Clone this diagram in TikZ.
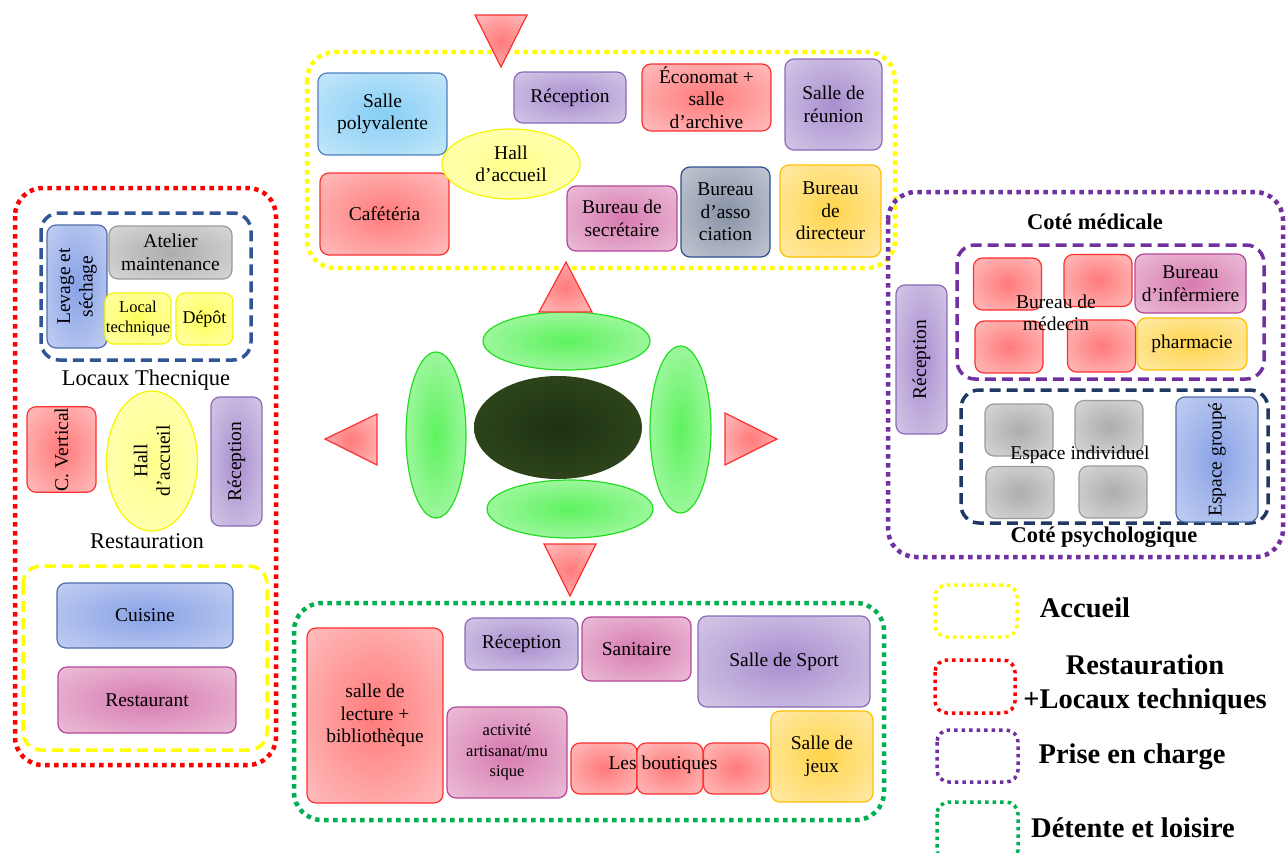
\documentclass[tikz,border=0pt]{standalone}
\usepackage{fontspec}
\setmainfont{Liberation Serif}
\usepackage{xcolor}
\usepackage{tikz}
\usetikzlibrary{shapes.geometric}

% tailles de texte
\newcommand{\petit}{\fontsize{16.5}{20.5}\selectfont}
\newcommand{\moyen}{\fontsize{19.5}{22.5}\selectfont}
\newcommand{\grand}{\fontsize{22.5}{26}\selectfont}
\newcommand{\legende}{\fontsize{28.5}{34}\selectfont}

% couleurs des zones
\definecolor{jauneacc}{HTML}{FFFF00}
\definecolor{rougezone}{HTML}{FF0000}
\definecolor{violetzone}{HTML}{7030A0}
\definecolor{vertzone}{HTML}{00B050}
\definecolor{bleutech}{HTML}{2F5597}
\definecolor{marinepsy}{HTML}{1F3864}
% couleurs des locaux (centre / bord / trait)
\definecolor{rougeC}{HTML}{FF7A7A}\definecolor{rougeB}{HTML}{FFD9D9}\definecolor{rougeT}{HTML}{FF3030}
\definecolor{cielC}{HTML}{86CEF5}\definecolor{cielB}{HTML}{DDF1FC}\definecolor{cielT}{HTML}{4F81BD}
\definecolor{mauveC}{HTML}{A88ECF}\definecolor{mauveB}{HTML}{E6E0F0}\definecolor{mauveT}{HTML}{8B6AB8}
\definecolor{roseC}{HTML}{D77AB0}\definecolor{roseB}{HTML}{F3DAE8}\definecolor{roseT}{HTML}{B5479A}
\definecolor{grisC}{HTML}{ADADAD}\definecolor{grisB}{HTML}{E9E9E9}\definecolor{grisT}{HTML}{9A9A9A}
\definecolor{jauneC}{HTML}{FFFF5C}\definecolor{jauneB}{HTML}{FFFFCC}\definecolor{jauneT}{HTML}{F5F500}
\definecolor{ambreC}{HTML}{FFD44A}\definecolor{ambreB}{HTML}{FFF3D0}\definecolor{ambreT}{HTML}{FFC000}
\definecolor{ardoiseC}{HTML}{8792A6}\definecolor{ardoiseB}{HTML}{DADDE4}\definecolor{ardoiseT}{HTML}{2F4F8F}
\definecolor{bleuC}{HTML}{88A2E6}\definecolor{bleuB}{HTML}{DAE1F7}\definecolor{bleuT}{HTML}{4F6EA8}
\definecolor{vertC}{HTML}{5EF25E}\definecolor{vertB}{HTML}{D8FCD8}\definecolor{vertT}{HTML}{22DD22}
\definecolor{coeurC}{HTML}{1E3212}\definecolor{coeurB}{HTML}{3B5423}

% degrade radial du centre jusqu'aux bords
\colorlet{fondc}{white}\colorlet{fondb}{white}
\pgfdeclareradialshading[fondc,fondb]{degrade}{\pgfpoint{0bp}{0bp}}{color(0bp)=(fondc); color(50bp)=(fondb)}

\tikzset{
  fond/.style 2 args={shade, shading=degrade, /utils/exec={\colorlet{fondc}{#1}\colorlet{fondb}{#2}}},
  zone/.style={line width=4.5pt, dash pattern=on 4.5pt off 4.5pt, rounded corners=28pt},
  tirets/.style={line width=3.5pt, dash pattern=on 11pt off 6pt, rounded corners=18pt},
  legende/.style={line width=3.5pt, dash pattern=on 3.5pt off 4pt, rounded corners=12pt},
  piece/.style={draw, rounded corners=9pt, line width=1.2pt, align=center, inner sep=1pt, font=\moyen},
  rouge/.style={piece, draw=rougeT, fond={rougeC}{rougeB}},
  ciel/.style={piece, draw=cielT, fond={cielC}{cielB}},
  mauve/.style={piece, draw=mauveT, fond={mauveC}{mauveB}},
  rose/.style={piece, draw=roseT, fond={roseC}{roseB}},
  gris/.style={piece, draw=grisT, fond={grisC}{grisB}},
  jaune/.style={piece, draw=jauneT, fond={jauneC}{jauneB}},
  ambre/.style={piece, draw=ambreT, fond={ambreC}{ambreB}},
  ardoise/.style={piece, draw=ardoiseT, fond={ardoiseC}{ardoiseB}},
  bleu/.style={piece, draw=bleuT, fond={bleuC}{bleuB}},
  hall/.style={ellipse, draw=jauneT, line width=1.2pt, fond={jauneC!70!white}{jauneB},
    align=center, inner sep=0pt, font=\moyen},
  ellipse verte/.style={ellipse, draw=vertT, line width=1.2pt, fond={vertC}{vertB}, inner sep=0pt},
  coeur/.style={ellipse, fond={coeurC}{coeurB}, inner sep=0pt},
  fleche/.style={draw=rougeT, line width=1.2pt, fond={rougeC}{rougeB}},
  etiquette/.style={align=center, inner sep=0pt, font=\moyen},
  titre/.style={inner sep=0pt, font=\grand},
  titre gras/.style={inner sep=0pt, font=\grand\bfseries},
  texte legende/.style={align=center, inner sep=0pt, font=\legende\bfseries}
}

\begin{document}
\begin{tikzpicture}[x=1pt,y=-1pt]
  \useasboundingbox (0,0) rectangle (1286,852);

  % Accueil
  \draw[zone, draw=jauneacc] (307,52) rectangle (895,268);
  \node[ciel, minimum width=129pt, minimum height=82pt] (polyvalente) at (382.5,114) {Salle\\polyvalente};
  \node[rouge, minimum width=129pt, minimum height=82pt] (cafeteria) at (384.5,214) {Cafétéria};
  \node[hall, minimum width=138pt, minimum height=70pt] (hallacc) at (511,164) {Hall\\d’accueil};
  \node[mauve, minimum width=112pt, minimum height=51pt] (recepacc) at (570,97.5) {Réception};
  \node[rouge, minimum width=129pt, minimum height=67pt] (economat) at (706.5,97.5) {Économat +\\salle\\d’archive};
  \node[mauve, minimum width=97pt, minimum height=91pt] (reunion) at (833.5,104.5) {Salle de\\réunion};
  \node[rose, minimum width=110pt, minimum height=65pt] (secretaire) at (622,218.5) {Bureau de\\secrétaire};
  \node[ardoise, minimum width=89pt, minimum height=90pt] (association) at (725.5,212) {Bureau\\d’asso\\ciation};
  \node[ambre, minimum width=101pt, minimum height=92pt] (directeur) at (830.5,211) {Bureau\\de\\directeur};

  % Restauration + locaux techniques
  \draw[zone, draw=rougezone] (15,188) rectangle (276,765);
  \draw[tirets, draw=bleutech] (41,213) rectangle (251,360);
  \node[bleu, rotate=90, minimum width=123pt, minimum height=60pt] (levage) at (77,286.5) {Levage et\\séchage};
  \node[gris, minimum width=123pt, minimum height=53pt] (atelier) at (170.5,252.5) {Atelier\\maintenance};
  \node[jaune, font=\petit, minimum width=50pt, minimum height=51pt] (localtech) at (138,318.5) {Local\\technique};
  \node[jaune, font=\fontsize{18}{21}\selectfont, minimum width=57pt, minimum height=52pt] (depot) at (204.5,319) {Dépôt};
  \node[titre] (loctech) at (146,380) {Locaux Thecnique};
  \node[rouge, rotate=90, minimum width=85pt, minimum height=69pt] (cvertical) at (61.5,449.5) {C. Vertical};
  \node[hall, rotate=90, minimum width=140pt, minimum height=91pt] (hallrest) at (152,461) {Hall\\d’accueil};
  \node[mauve, rotate=90, minimum width=129pt, minimum height=51pt] (receprest) at (236.5,461.5) {Réception};
  \node[titre] (restau) at (147,541) {Restauration};
  \draw[tirets, draw=jauneacc] (23,566) rectangle (267,750);
  \node[bleu, minimum width=176pt, minimum height=65pt] (cuisine) at (145,615.5) {Cuisine};
  \node[rose, minimum width=178pt, minimum height=66pt] (restaurant) at (147,700) {Restaurant};

  % Prise en charge
  \draw[zone, draw=violetzone] (888,192) rectangle (1283,557);
  \node[titre gras] (medical) at (1095,222) {Coté médicale};
  \draw[tirets, draw=violetzone] (957,245) rectangle (1264,379);
  \foreach \x/\y [count=\i] in {1007.5/284, 1098/280.5, 1009/347, 1101.5/346}
    \node[rouge, minimum width=68pt, minimum height=52pt] (medecin\i) at (\x,\y) {};
  \node[etiquette] (medecin) at (1056,313) {Bureau de\\médecin};
  \node[rose, minimum width=111pt, minimum height=59pt] (infirmiere) at (1190.5,283.5) {Bureau\\d’infèrmiere};
  \node[ambre, minimum width=110pt, minimum height=52pt] (pharmacie) at (1192,344) {pharmacie};
  \node[mauve, rotate=90, minimum width=149pt, minimum height=51pt] (recepprise) at (921.5,359.5) {Réception};
  \draw[tirets, draw=marinepsy] (961,390) rectangle (1268,523);
  \foreach \x/\y [count=\i] in {1019/430, 1109/426.5, 1020/492.5, 1113/492}
    \node[gris, minimum width=68pt, minimum height=52pt] (indiv\i) at (\x,\y) {};
  \node[etiquette] (individuel) at (1080,455) {Espace individuel};
  \node[bleu, rotate=90, minimum width=125pt, minimum height=82pt] (groupe) at (1217,459.5) {Espace groupé};
  \node[titre gras] (psycho) at (1104,537) {Coté psychologique};

  % Detente et loisire
  \draw[zone, draw=vertzone] (294,603) rectangle (884,820);
  \node[rouge, minimum width=136pt, minimum height=175pt] (lecture) at (375,715.5) {salle de\\lecture +\\bibliothèque};
  \node[mauve, minimum width=113pt, minimum height=52pt] (recepdet) at (521.5,644) {Réception};
  \node[rose, minimum width=109pt, minimum height=64pt] (sanitaire) at (636.5,649) {Sanitaire};
  \node[mauve, minimum width=172pt, minimum height=91pt] (sport) at (784,661.5) {Salle de Sport};
  \node[rose, font=\petit, minimum width=120pt, minimum height=91pt] (artisanat) at (507,752.5) {activité\\artisanat/mu\\sique};
  \foreach \x [count=\i] in {604, 670, 736.5}
    \node[rouge, minimum width=66pt, minimum height=51pt] (boutique\i) at (\x,768.5) {};
  \node[etiquette] (boutiques) at (663,765) {Les boutiques};
  \node[ambre, minimum width=102pt, minimum height=91pt] (jeux) at (822,756.5) {Salle de\\jeux};

  % noyau central
  \node[ellipse verte, minimum width=167pt, minimum height=58pt] (nord) at (566.5,341) {};
  \node[ellipse verte, minimum width=166pt, minimum height=58pt] (sud) at (570,509) {};
  \node[ellipse verte, minimum width=60pt, minimum height=166pt] (ouest) at (436,435) {};
  \node[ellipse verte, minimum width=61pt, minimum height=167pt] (est) at (680.5,429.5) {};
  \node[coeur, minimum width=168pt, minimum height=103pt] (centre) at (558,427.5) {};

  % fleches vers les zones
  \path[fleche] (475,15) -- (527,15) -- (501,67) -- cycle;
  \path[fleche] (539,312) -- (592,312) -- (566,262) -- cycle;
  \path[fleche] (377,414) -- (377,465) -- (325,439) -- cycle;
  \path[fleche] (725,413) -- (725,465) -- (777,439) -- cycle;
  \path[fleche] (544,544) -- (596,544) -- (570,596) -- cycle;

  % legende
  \draw[legende, draw=jauneacc] (935,585) rectangle (1017,637);
  \node[texte legende] (accueil) at (1085,608) {Accueil};
  \draw[legende, draw=rougezone] (935,660) rectangle (1015,713);
  \node[texte legende] (restlocaux) at (1145,685) {Restauration\\+Locaux techniques};
  \draw[legende, draw=violetzone] (937,730) rectangle (1018,782);
  \node[texte legende] (prise) at (1132,757) {Prise en charge};
  \draw[legende, draw=vertzone] (937,802) rectangle (1018,862);
  \node[texte legende] (detente) at (1133,828) {Détente et loisire};
\end{tikzpicture}
\end{document}
